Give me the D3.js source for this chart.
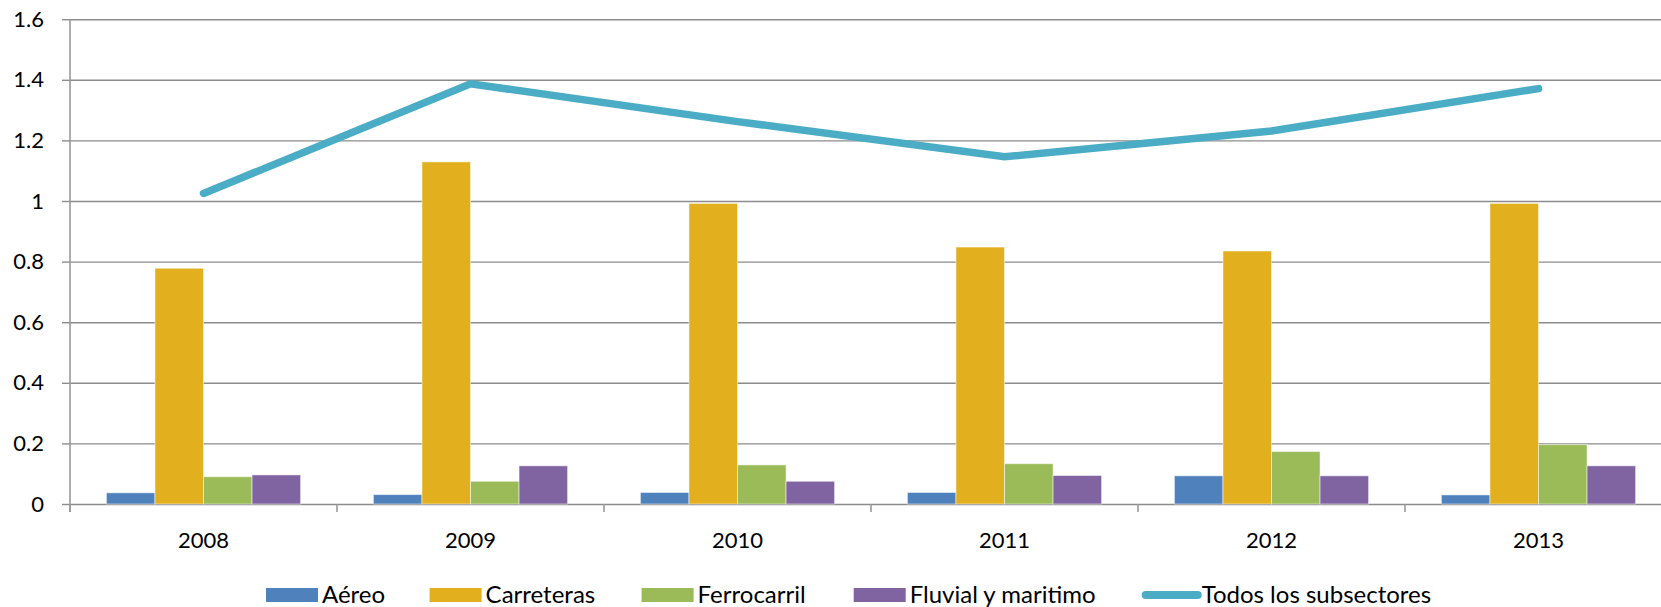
<!DOCTYPE html>
<html>
<head>
<meta charset="utf-8">
<script src="https://cdn.jsdelivr.net/npm/d3@7"></script>
<style>
  body { margin: 0; background: #fff; }
  text { font-family: Lato, "Open Sans", sans-serif; fill: #000; }
</style>
</head>
<body>
<div class="canvas"></div>
<script>
const years = ["2008", "2009", "2010", "2011", "2012", "2013"];
const aereo = [0.037, 0.031, 0.038, 0.038, 0.093, 0.030];
const carreteras = [0.778, 1.129, 0.992, 0.848, 0.835, 0.992];
const ferrocarril = [0.090, 0.075, 0.129, 0.133, 0.173, 0.196];
const fluvial = [0.096, 0.126, 0.075, 0.094, 0.093, 0.126];
const todos = [1.025, 1.387, 1.262, 1.146, 1.231, 1.371];
const yTicks = [0, 0.2, 0.4, 0.6, 0.8, 1, 1.2, 1.4, 1.6];
const yTickLabels = ["0", "0.2", "0.4", "0.6", "0.8", "1", "1.2", "1.4", "1.6"];

const barSeries = [
  {name: "Aéreo", values: aereo, color: "#4F81BD"},
  {name: "Carreteras", values: carreteras, color: "#E2AF1E"},
  {name: "Ferrocarril", values: ferrocarril, color: "#9BBB59"},
  {name: "Fluvial y maritimo", values: fluvial, color: "#8064A2"}
];
const lineColor = "#4BACC6";

const width = 1661, height = 607;
const margin = {left: 70, right: 1672, top: 19.2, bottom: 504};

const svg = d3.select(".canvas").append("svg")
  .attr("width", width)
  .attr("height", height);

const x0 = d3.scaleBand().domain(years).range([margin.left, margin.right]);
const x1 = d3.scaleBand().domain(barSeries.map(s => s.name))
  .range([0, x0.bandwidth()])
  .paddingInner(0)
  .paddingOuter(0.75);
const y = d3.scaleLinear().domain([0, 1.6]).range([margin.bottom, margin.top]);

// gridlines
svg.append("g")
  .attr("transform", `translate(${margin.left},0)`)
  .call(d3.axisLeft(y).tickValues(yTicks).tickSize(-(width - margin.left)).tickFormat(""))
  .call(g => g.select(".domain").remove())
  .call(g => g.selectAll("line").attr("stroke", "#8c8c8c").attr("stroke-width", 1.4));

// y axis ticks + labels
svg.append("g")
  .attr("transform", `translate(${margin.left},0)`)
  .call(d3.axisLeft(y).tickValues(yTicks).tickSize(8).tickSizeOuter(0).tickPadding(18)
    .tickFormat((d, i) => yTickLabels[i]))
  .call(g => g.select(".domain").remove())
  .call(g => g.selectAll("line").attr("stroke", "#8c8c8c").attr("stroke-width", 1.4))
  .call(g => g.selectAll("text").style("font-size", "22px"));

svg.append("line")
  .attr("x1", margin.left).attr("x2", margin.left)
  .attr("y1", margin.top).attr("y2", margin.bottom + 8)
  .attr("stroke", "#999").attr("stroke-width", 1.6);

// x axis labels
svg.append("g")
  .attr("transform", `translate(0,${margin.bottom})`)
  .call(d3.axisBottom(x0).tickSize(0).tickPadding(28))
  .call(g => g.select(".domain").remove())
  .call(g => g.selectAll("text").style("font-size", "22px"));

// x tick marks at category boundaries
svg.append("g").selectAll("line")
  .data(years)
  .join("line")
  .attr("x1", d => x0(d)).attr("x2", d => x0(d))
  .attr("y1", margin.bottom).attr("y2", margin.bottom + 8)
  .attr("stroke", "#999").attr("stroke-width", 1.6);

// bars
const groups = svg.append("g").selectAll("g")
  .data(years)
  .join("g")
  .attr("transform", d => `translate(${x0(d)},0)`);

groups.selectAll("rect")
  .data((d, i) => barSeries.map(s => ({name: s.name, value: s.values[i], color: s.color})))
  .join("rect")
  .attr("x", d => x1(d.name))
  .attr("width", x1.bandwidth())
  .attr("y", d => y(d.value))
  .attr("height", d => y(0) - y(d.value))
  .attr("fill", d => d.color)
  .attr("stroke", "#fff")
  .attr("stroke-opacity", 0.5)
  .attr("stroke-width", 1);

// line
const line = d3.line()
  .x((d, i) => x0(years[i]) + x0.bandwidth() / 2)
  .y(d => y(d));

svg.append("path")
  .datum(todos)
  .attr("d", line)
  .attr("fill", "none")
  .attr("stroke", lineColor)
  .attr("stroke-width", 7.5)
  .attr("stroke-linecap", "round")
  .attr("stroke-linejoin", "miter");

// legend
const legendX = [266, 429.6, 641.6, 853.7, 1141.7];
const legend = svg.append("g");
barSeries.forEach((s, i) => {
  legend.append("rect")
    .attr("x", legendX[i]).attr("y", 588)
    .attr("width", 52).attr("height", 14)
    .attr("fill", s.color);
  legend.append("text")
    .attr("x", legendX[i] + 56).attr("y", 603)
    .style("font-size", "24px")
    .text(s.name);
});
legend.append("line")
  .attr("x1", legendX[4] + 4).attr("x2", legendX[4] + 56)
  .attr("y1", 595).attr("y2", 595)
  .attr("stroke", lineColor).attr("stroke-width", 8)
  .attr("stroke-linecap", "round");
legend.append("text")
  .attr("x", legendX[4] + 60).attr("y", 603)
  .style("font-size", "24px")
  .text("Todos los subsectores");
</script>
</body>
</html>
